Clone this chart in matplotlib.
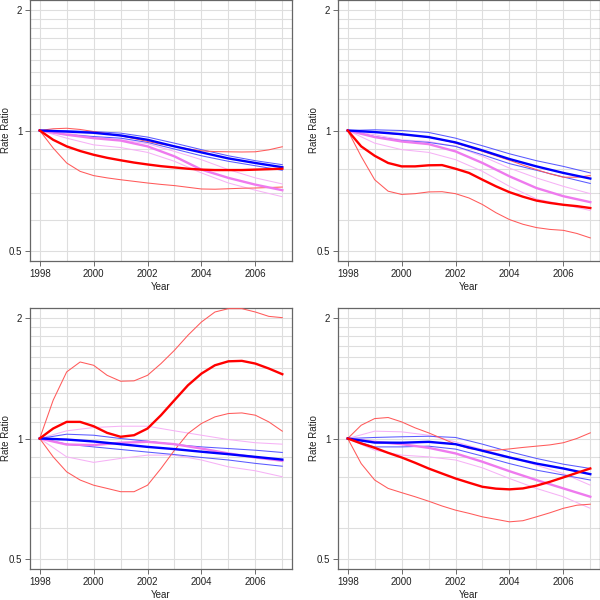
import matplotlib
matplotlib.use("Agg")
import matplotlib.pyplot as plt
from matplotlib.ticker import NullFormatter, NullLocator

YEARS = [1998, 1999, 2000, 2001, 2002, 2003, 2004, 2005, 2006, 2007]
HALF_YEARS = [1998 + 0.5 * i for i in range(19)]
X_TICKS = [1998, 2000, 2002, 2004, 2006]
Y_TICKS = [0.5, 1, 2]
Y_TICK_LABELS = ["0.5", "1", "2"]
Y_GRID = [0.5, 0.6, 0.7, 0.8, 0.9, 1.0, 1.1, 1.2, 1.3, 1.4, 1.5,
          1.6, 1.7, 1.8, 1.9, 2.0]

# Panel 1 (top left)
P1_RED = [1.0, 0.948, 0.913, 0.889, 0.870, 0.855, 0.843, 0.832, 0.823, 0.815,
          0.809, 0.803, 0.799, 0.797, 0.797, 0.797, 0.799, 0.801, 0.803]
P1_RED_HI = [1.0, 1.010, 1.013, 1.006, 0.994, 0.982, 0.970, 0.955, 0.939, 0.925,
             0.913, 0.900, 0.890, 0.886, 0.885, 0.884, 0.885, 0.895, 0.911]
P1_RED_LO = [1.0, 0.904, 0.830, 0.791, 0.772, 0.762, 0.754, 0.747, 0.740, 0.734,
             0.729, 0.722, 0.715, 0.714, 0.716, 0.718, 0.719, 0.721, 0.723]
P1_BLUE = [1.0, 0.994, 0.987, 0.972, 0.948, 0.913, 0.882, 0.852, 0.830, 0.810]
P1_BLUE_HI = [1.0, 0.998, 0.994, 0.985, 0.963, 0.930, 0.896, 0.865, 0.841, 0.822]
P1_BLUE_LO = [1.0, 0.976, 0.966, 0.957, 0.934, 0.899, 0.865, 0.838, 0.817, 0.796]
P1_VIOLET = [1.0, 0.976, 0.957, 0.944, 0.913, 0.862, 0.799, 0.762, 0.733, 0.710]
P1_VIOLET_HI = [1.0, 0.985, 0.963, 0.948, 0.927, 0.887, 0.846, 0.799, 0.762, 0.736]
P1_VIOLET_LO = [1.0, 0.957, 0.921, 0.907, 0.882, 0.838, 0.784, 0.740, 0.710, 0.684]

# Panel 2 (top right)
P2_RED = [1.0, 0.913, 0.865, 0.830, 0.814, 0.814, 0.819, 0.820, 0.803, 0.784,
          0.754, 0.726, 0.702, 0.684, 0.669, 0.660, 0.653, 0.648, 0.641]
P2_RED_HI = [1.0, 0.996, 0.991, 0.984, 0.976, 0.970, 0.963, 0.948, 0.930, 0.909,
             0.887, 0.865, 0.843, 0.820, 0.799, 0.780, 0.765, 0.765, 0.772]
P2_RED_LO = [1.0, 0.862, 0.754, 0.706, 0.693, 0.696, 0.703, 0.704, 0.696, 0.679,
             0.654, 0.624, 0.600, 0.584, 0.573, 0.567, 0.564, 0.554, 0.540]
P2_BLUE = [1.0, 0.991, 0.979, 0.963, 0.934, 0.892, 0.849, 0.814, 0.784, 0.759]
P2_BLUE_HI = [1.0, 1.004, 1.0, 0.989, 0.957, 0.916, 0.875, 0.841, 0.814, 0.784]
P2_BLUE_LO = [1.0, 0.966, 0.944, 0.934, 0.913, 0.870, 0.827, 0.796, 0.766, 0.738]
P2_VIOLET = [1.0, 0.963, 0.939, 0.925, 0.887, 0.830, 0.769, 0.719, 0.686, 0.663]
P2_VIOLET_HI = [1.0, 0.976, 0.948, 0.939, 0.913, 0.862, 0.806, 0.762, 0.726, 0.696]
P2_VIOLET_LO = [1.0, 0.930, 0.896, 0.882, 0.846, 0.791, 0.726, 0.675, 0.654, 0.632]

# Panel 3 (bottom left)
P3_RED = [1.0, 1.059, 1.100, 1.100, 1.073, 1.033, 1.010, 1.019, 1.059, 1.143,
          1.246, 1.357, 1.451, 1.522, 1.557, 1.561, 1.537, 1.494, 1.446]
P3_RED_HI = [1.0, 1.246, 1.465, 1.551, 1.522, 1.437, 1.389, 1.392, 1.437, 1.537,
             1.659, 1.808, 1.951, 2.066, 2.106, 2.106, 2.066, 2.015, 2.0]
P3_RED_LO = [1.0, 0.900, 0.826, 0.788, 0.765, 0.751, 0.737, 0.737, 0.765, 0.842,
             0.935, 1.029, 1.090, 1.132, 1.154, 1.158, 1.143, 1.100, 1.043]
P3_BLUE = [1.0, 0.994, 0.983, 0.968, 0.953, 0.941, 0.927, 0.914, 0.900, 0.886]
P3_BLUE_HI = [1.0, 1.025, 1.019, 1.0, 0.985, 0.966, 0.953, 0.944, 0.935, 0.923]
P3_BLUE_LO = [1.0, 0.968, 0.953, 0.939, 0.925, 0.912, 0.897, 0.884, 0.867, 0.853]
P3_VIOLET = [1.0, 0.966, 0.963, 0.976, 0.981, 0.968, 0.944, 0.918, 0.897, 0.880]
P3_VIOLET_HI = [1.0, 1.045, 1.065, 1.073, 1.073, 1.045, 1.019, 0.994, 0.976, 0.968]
P3_VIOLET_LO = [1.0, 0.900, 0.872, 0.892, 0.909, 0.909, 0.884, 0.850, 0.831, 0.803]

# Panel 4 (bottom right)
P4_RED = [1.0, 0.972, 0.948, 0.921, 0.897, 0.870, 0.842, 0.818, 0.795, 0.776,
          0.758, 0.750, 0.747, 0.751, 0.763, 0.780, 0.800, 0.821, 0.842]
P4_RED_HI = [1.0, 1.079, 1.121, 1.128, 1.100, 1.063, 1.033, 1.0, 0.968, 0.944,
             0.935, 0.935, 0.942, 0.950, 0.957, 0.964, 0.976, 1.0, 1.033]
P4_RED_LO = [1.0, 0.866, 0.788, 0.751, 0.733, 0.716, 0.698, 0.679, 0.663, 0.651,
             0.638, 0.629, 0.620, 0.624, 0.638, 0.653, 0.670, 0.682, 0.686]
P4_BLUE = [1.0, 0.977, 0.976, 0.981, 0.968, 0.932, 0.897, 0.866, 0.842, 0.815]
P4_BLUE_HI = [1.0, 1.006, 1.010, 1.013, 1.006, 0.968, 0.927, 0.892, 0.863, 0.842]
P4_BLUE_LO = [1.0, 0.953, 0.953, 0.957, 0.941, 0.904, 0.866, 0.834, 0.811, 0.788]
P4_VIOLET = [1.0, 0.981, 0.968, 0.948, 0.918, 0.875, 0.829, 0.788, 0.751, 0.716]
P4_VIOLET_HI = [1.0, 1.043, 1.039, 1.019, 0.981, 0.939, 0.900, 0.858, 0.818, 0.765]
P4_VIOLET_LO = [1.0, 0.935, 0.909, 0.900, 0.884, 0.845, 0.795, 0.751, 0.716, 0.670]

COLORS = {"red": ("#ff0000", "#ff5a5a"),
          "blue": ("#0000ff", "#5a5aff"),
          "violet": ("#ee7aee", "#f6b2f6")}

plt.rcParams["font.family"] = ["Liberation Sans", "DejaVu Sans"]


def draw_group(ax, x, mid, hi, lo, color):
    strong, light = COLORS[color]
    ax.plot(x, hi, color=light, linewidth=0.75, zorder=3)
    ax.plot(x, lo, color=light, linewidth=0.75, zorder=3)
    ax.plot(x, mid, color=strong, linewidth=1.7, zorder=4)


def style_axes(ax):
    ax.set_yscale("log")
    ax.set_xlim(1997.64, 2007.36)
    ax.set_ylim(0.5 / 2 ** 0.08, 2 * 2 ** 0.08)
    # grid lines (every year / every 0.1)
    for v in Y_GRID:
        ax.axhline(v, color="#dedede", linewidth=0.8, zorder=1)
    for yr in YEARS:
        ax.axvline(yr, color="#dedede", linewidth=0.8, zorder=1)
    ax.set_xticks(X_TICKS)
    ax.set_xticklabels([str(t) for t in X_TICKS])
    ax.set_yticks(Y_TICKS)
    ax.set_yticklabels(Y_TICK_LABELS)
    ax.yaxis.set_minor_locator(NullLocator())
    ax.yaxis.set_minor_formatter(NullFormatter())
    ax.tick_params(axis="both", length=3.5, width=0.6, color="#555555",
                   labelsize=7, pad=2, labelcolor="#222222")
    for sp in ax.spines.values():
        sp.set_color("#666666")
        sp.set_linewidth(0.9)
    ax.set_xlabel("Year", fontsize=7, color="#222222", va="center")
    ax.set_ylabel("Rate Ratio", fontsize=7, color="#222222", va="center")
    ax.xaxis.set_label_coords(0.5, -0.098)
    ax.yaxis.set_label_coords(-0.093, 0.5)


def panel(ax, red, red_hi, red_lo, blue, blue_hi, blue_lo,
          violet, violet_hi, violet_lo):
    style_axes(ax)
    draw_group(ax, YEARS, violet, violet_hi, violet_lo, "violet")
    draw_group(ax, YEARS, blue, blue_hi, blue_lo, "blue")
    draw_group(ax, HALF_YEARS, red, red_hi, red_lo, "red")


fig = plt.figure(figsize=(6, 6), dpi=100)
w, h = 262 / 600, 261 / 600
ax1 = fig.add_axes([30 / 600, 1 - 261 / 600, w, h])
ax2 = fig.add_axes([338 / 600, 1 - 261 / 600, w, h])
ax3 = fig.add_axes([30 / 600, 1 - 569 / 600, w, h])
ax4 = fig.add_axes([338 / 600, 1 - 569 / 600, w, h])

panel(ax1, P1_RED, P1_RED_HI, P1_RED_LO, P1_BLUE, P1_BLUE_HI, P1_BLUE_LO,
      P1_VIOLET, P1_VIOLET_HI, P1_VIOLET_LO)
panel(ax2, P2_RED, P2_RED_HI, P2_RED_LO, P2_BLUE, P2_BLUE_HI, P2_BLUE_LO,
      P2_VIOLET, P2_VIOLET_HI, P2_VIOLET_LO)
panel(ax3, P3_RED, P3_RED_HI, P3_RED_LO, P3_BLUE, P3_BLUE_HI, P3_BLUE_LO,
      P3_VIOLET, P3_VIOLET_HI, P3_VIOLET_LO)
panel(ax4, P4_RED, P4_RED_HI, P4_RED_LO, P4_BLUE, P4_BLUE_HI, P4_BLUE_LO,
      P4_VIOLET, P4_VIOLET_HI, P4_VIOLET_LO)

plt.savefig("out.png", dpi=100)
plt.close()
